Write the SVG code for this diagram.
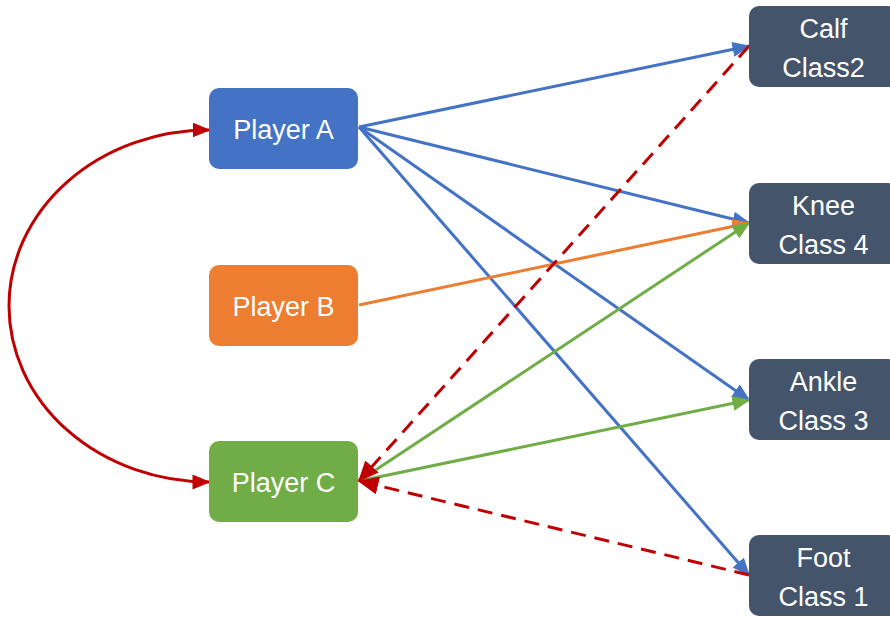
<svg xmlns="http://www.w3.org/2000/svg" width="890" height="618" viewBox="0 0 890 618">
  <style>
    .node-text { font-family: "Liberation Sans", Arial, sans-serif; font-size: 27px; fill: #ffffff; text-anchor: middle; }
    .edge { fill: none; stroke-width: 3; }
    .blue { stroke: #4472C4; }
    .orange { stroke: #ED7D31; }
    .green { stroke: #70AD47; }
    .red { stroke: #C00000; }
    .dash { stroke-dasharray: 15 9; }
  </style>
  <defs>
    <marker id="ah-blue" markerWidth="6" markerHeight="5" refX="5.5" refY="2.5" orient="auto" markerUnits="strokeWidth">
      <path d="M0,0 L6,2.5 L0,5 Z" fill="#4472C4"/>
    </marker>
    <marker id="ah-orange" markerWidth="6" markerHeight="5" refX="5.5" refY="2.5" orient="auto" markerUnits="strokeWidth">
      <path d="M0,0 L6,2.5 L0,5 Z" fill="#ED7D31"/>
    </marker>
    <marker id="ah-green" markerWidth="6" markerHeight="5" refX="5.5" refY="2.5" orient="auto" markerUnits="strokeWidth">
      <path d="M0,0 L6,2.5 L0,5 Z" fill="#70AD47"/>
    </marker>
    <marker id="ah-red" markerWidth="6" markerHeight="5" refX="5.5" refY="2.5" orient="auto" markerUnits="strokeWidth">
      <path d="M0,0 L6,2.5 L0,5 Z" fill="#C00000"/>
    </marker>
    <marker id="ah-red-big" markerWidth="7" markerHeight="6" refX="6.5" refY="3" orient="auto" markerUnits="strokeWidth">
      <path d="M0,0 L7,3 L0,6 Z" fill="#C00000"/>
    </marker>
    <marker id="ah-red-start" markerWidth="6" markerHeight="5" refX="0.5" refY="2.5" orient="auto" markerUnits="strokeWidth">
      <path d="M6,0 L0,2.5 L6,5 Z" fill="#C00000"/>
    </marker>
  </defs>

  <g id="connectors">
    <path class="edge red" d="M209,130 A200,176 0 0 0 209,482" marker-start="url(#ah-red-start)" marker-end="url(#ah-red)"/>
    <line class="edge blue" x1="359" y1="127" x2="749" y2="46" marker-end="url(#ah-blue)"/>
    <line class="edge blue" x1="359" y1="127" x2="749" y2="223" marker-end="url(#ah-blue)"/>
    <line class="edge blue" x1="359" y1="127" x2="749" y2="400" marker-end="url(#ah-blue)"/>
    <line class="edge blue" x1="359" y1="127" x2="749" y2="575" marker-end="url(#ah-blue)"/>
    <line class="edge orange" x1="359" y1="305" x2="749" y2="223" marker-end="url(#ah-orange)"/>
    <line class="edge green" x1="359" y1="481" x2="749" y2="223" marker-end="url(#ah-green)"/>
    <line class="edge green" x1="359" y1="481" x2="749" y2="400" marker-end="url(#ah-green)"/>
    <line class="edge red dash" x1="749" y1="46" x2="359" y2="481" marker-end="url(#ah-red-big)"/>
    <line class="edge red dash" x1="749" y1="575" x2="359" y2="481" marker-end="url(#ah-red-big)"/>
  </g>

  <g id="player-a">
    <rect x="209" y="88" width="149" height="81" rx="10" fill="#4472C4"/>
    <text class="node-text" x="283.5" y="139">Player A</text>
  </g>
  <g id="player-b">
    <rect x="209" y="265" width="149" height="81" rx="10" fill="#ED7D31"/>
    <text class="node-text" x="283.5" y="316">Player B</text>
  </g>
  <g id="player-c">
    <rect x="209" y="441" width="149" height="81" rx="10" fill="#70AD47"/>
    <text class="node-text" x="283.5" y="492">Player C</text>
  </g>

  <g id="calf">
    <rect x="749" y="6" width="149" height="81" rx="10" fill="#44546A"/>
    <text class="node-text" x="823.5" y="38">Calf</text>
    <text class="node-text" x="823.5" y="77">Class2</text>
  </g>
  <g id="knee">
    <rect x="749" y="183" width="149" height="81" rx="10" fill="#44546A"/>
    <text class="node-text" x="823.5" y="215">Knee</text>
    <text class="node-text" x="823.5" y="254">Class 4</text>
  </g>
  <g id="ankle">
    <rect x="749" y="359" width="149" height="81" rx="10" fill="#44546A"/>
    <text class="node-text" x="823.5" y="391">Ankle</text>
    <text class="node-text" x="823.5" y="430">Class 3</text>
  </g>
  <g id="foot">
    <rect x="749" y="535" width="149" height="81" rx="10" fill="#44546A"/>
    <text class="node-text" x="823.5" y="567">Foot</text>
    <text class="node-text" x="823.5" y="606">Class 1</text>
  </g>
</svg>
